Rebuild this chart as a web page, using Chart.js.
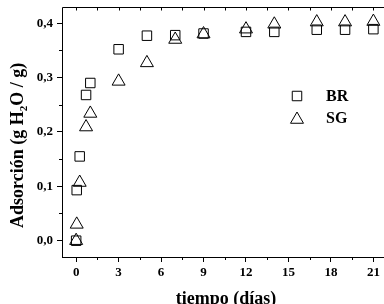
<!DOCTYPE html>
<html>
<head>
<meta charset="utf-8">
<script src="https://cdn.jsdelivr.net/npm/chart.js@4.4.1/dist/chart.umd.min.js"></script>
<style>
  html, body { margin: 0; padding: 0; background: #fff; overflow: hidden; }
</style>
</head>
<body>
<canvas id="adsChart" width="384" height="304"></canvas>
<script>
// tiempo (días) and adsorción (g H2O / g)
const dias  = [0, 0.04, 0.25, 0.7, 1, 3, 5, 7, 9, 12, 14, 17, 19, 21];
const adsBR = [0, 0.093, 0.155, 0.268, 0.290, 0.352, 0.377, 0.378, 0.381, 0.384, 0.384, 0.388, 0.388, 0.389];
const adsSG = [0, 0.030, 0.107, 0.209, 0.234, 0.293, 0.327, 0.370, 0.380, 0.389, 0.398, 0.402, 0.402, 0.403];
const seriesNames = ['BR', 'SG'];

const xTicks = [0, 3, 6, 9, 12, 15, 18, 21];
const yTicks = [0, 0.1, 0.2, 0.3, 0.4];
const xMinor = xTicks.map(v => v + 1.5);
const yMinor = yTicks.map(v => v + 0.05);

const serif = '"Liberation Serif", "Times New Roman", serif';

function toPoints(ys) {
    return dias.map((d, i) => ({ x: d, y: ys[i] }));
}

// frame lines, minor ticks, titles and the inner legend
const framePlugin = {
    id: 'frame',
    afterDraw(chart) {
        const ctx = chart.ctx;
        const area = chart.chartArea;
        const xs = chart.scales.x;
        const ys = chart.scales.y;
        const frameTop = 7.5;
        const frameRight = chart.width;
        ctx.save();
        ctx.strokeStyle = '#000';
        ctx.lineWidth = 1;

        ctx.beginPath();
        // top line, left line up to it, bottom line to the edge
        ctx.moveTo(area.left + 0.5, area.top);
        ctx.lineTo(area.left + 0.5, frameTop);
        ctx.lineTo(frameRight, frameTop);
        ctx.moveTo(area.right - 1, area.bottom + 0.5);
        ctx.lineTo(frameRight, area.bottom + 0.5);
        xMinor.forEach(v => {
            const px = Math.round(xs.getPixelForValue(v)) + 0.5;
            ctx.moveTo(px, area.bottom);
            ctx.lineTo(px, area.bottom + 3);
        });
        xTicks.concat(xMinor).forEach(v => {
            const px = Math.round(xs.getPixelForValue(v)) + 0.5;
            ctx.moveTo(px, frameTop);
            ctx.lineTo(px, frameTop + 3);
        });
        yMinor.forEach(v => {
            const py = Math.round(ys.getPixelForValue(v)) + 0.5;
            ctx.moveTo(area.left, py);
            ctx.lineTo(area.left - 3, py);
        });
        ctx.stroke();

        // y title with subscript
        ctx.fillStyle = '#000';
        ctx.translate(23, 228);
        ctx.rotate(-Math.PI / 2);
        ctx.textBaseline = 'alphabetic';
        ctx.textAlign = 'left';
        const big = 'bold 18px ' + serif;
        const small = 'bold 11px ' + serif;
        let x = 0;
        ctx.font = big;
        const part1 = 'Adsorción (g H';
        ctx.fillText(part1, x, 0);
        x += ctx.measureText(part1).width;
        ctx.font = small;
        ctx.fillText('2', x, 4);
        x += ctx.measureText('2').width;
        ctx.font = big;
        ctx.fillText('O / g)', x, 0);
        ctx.setTransform(1, 0, 0, 1, 0, 0);

        // x title
        ctx.font = big;
        ctx.textAlign = 'center';
        ctx.fillText('tiempo (días)', 226, 304);

        // legend
        ctx.textAlign = 'left';
        ctx.textBaseline = 'middle';
        ctx.font = 'bold 16px ' + serif;
        const legY = [96, 118];
        chart.data.datasets.forEach((ds, i) => {
            ctx.fillStyle = 'rgba(0,0,0,0)';
            Chart.helpers.drawPoint(ctx, {
                pointStyle: ds.pointStyle,
                radius: ds.pointRadius,
                borderWidth: 1
            }, 297, legY[i] + (ds.pointStyle === 'triangle' ? 1.5 : 0));
            ctx.fillStyle = '#000';
            ctx.fillText(seriesNames[i], 326, legY[i] + 1);
        });
        ctx.restore();
    }
};

new Chart(document.getElementById('adsChart'), {
    type: 'scatter',
    data: {
        datasets: [
            {
                label: seriesNames[0],
                data: toPoints(adsBR),
                pointStyle: 'rect',
                pointRadius: 6.7,
                pointBorderWidth: 1,
                borderColor: '#000',
                backgroundColor: 'rgba(0,0,0,0)',
                clip: false
            },
            {
                label: seriesNames[1],
                data: toPoints(adsSG),
                pointStyle: 'triangle',
                pointRadius: 7.5,
                pointBorderWidth: 1,
                borderColor: '#000',
                backgroundColor: 'rgba(0,0,0,0)',
                clip: false
            }
        ]
    },
    options: {
        responsive: false,
        animation: false,
        events: [],
        layout: { padding: { top: 7, left: 0, right: 0, bottom: 0 } },
        plugins: {
            legend: { display: false },
            tooltip: { enabled: false }
        },
        scales: {
            x: {
                type: 'linear',
                min: -1,
                max: 21.15,
                afterBuildTicks: s => { s.ticks = xTicks.map(v => ({ value: v })); },
                afterFit: s => {
                    s.height = 47;
                    s.paddingLeft = 0;
                    s.paddingRight = 0;
                },
                border: { display: true, color: '#000', width: 1 },
                grid: { display: true, drawOnChartArea: false, drawTicks: true, tickLength: 5, color: '#000' },
                ticks: {
                    color: '#000',
                    padding: 3,
                    maxRotation: 0,
                    font: { family: serif, size: 13, weight: 'bold' },
                    callback: v => String(v)
                }
            },
            y: {
                type: 'linear',
                min: -0.03,
                max: 0.427,
                afterBuildTicks: s => { s.ticks = yTicks.map(v => ({ value: v })); },
                afterFit: s => {
                    s.width = 62;
                    s.paddingTop = 0;
                    s.paddingBottom = 0;
                },
                border: { display: true, color: '#000', width: 1 },
                grid: { display: true, drawOnChartArea: false, drawTicks: true, tickLength: 5, color: '#000' },
                ticks: {
                    color: '#000',
                    padding: 4,
                    font: { family: serif, size: 13, weight: 'bold' },
                    callback: v => v.toFixed(1).replace('.', ',')
                }
            }
        }
    },
    plugins: [framePlugin]
});
</script>
</body>
</html>
